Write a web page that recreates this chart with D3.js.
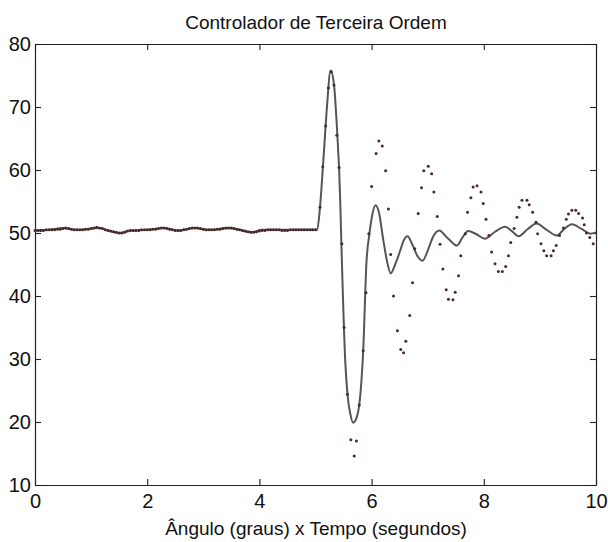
<!DOCTYPE html>
<html>
<head>
<meta charset="utf-8">
<script src="https://cdn.jsdelivr.net/npm/d3@7"></script>
<style>
  html, body { margin: 0; padding: 0; background: #fff; }
  svg { display: block; }
  text { font-family: "Liberation Sans", Arial, sans-serif; fill: #111; }
</style>
</head>
<body>
<svg id="chart" width="608" height="542"></svg>
<script>
// Continuous response (solid line): time [s] and angle [degrees]
const lineTime = [
  0.00, 0.25, 0.50, 0.75, 1.00, 1.15, 1.30, 1.50, 1.70, 2.00,
  2.30, 2.55, 2.85, 3.10, 3.45, 3.65, 3.85, 4.05, 4.50, 5.03,
  5.08, 5.14, 5.20, 5.27, 5.33, 5.41, 5.42, 5.44, 5.47, 5.53,
  5.57, 5.62, 5.67, 5.74, 5.78, 5.85, 5.91, 5.96, 6.01, 6.07,
  6.13, 6.21, 6.28, 6.34, 6.42, 6.51, 6.57, 6.64, 6.72, 6.82,
  6.91, 7.00, 7.10, 7.21, 7.32, 7.40, 7.52, 7.62, 7.72, 7.87,
  8.02, 8.20, 8.38, 8.50, 8.62, 8.78, 8.94, 9.12, 9.30, 9.43,
  9.57, 9.75, 9.90, 10.00
];
const lineValue = [
  50.4, 50.5, 50.8, 50.5, 50.7, 50.8, 50.4, 50.0, 50.4, 50.5,
  50.8, 50.4, 50.8, 50.5, 50.8, 50.5, 50.1, 50.5, 50.5, 50.5,
  54.1, 61.5, 69.5, 75.8, 73.5, 62.1, 60.4, 55.2, 45.6, 29.7,
  24.4, 21.3, 19.9, 20.9, 22.7, 31.3, 45.6, 49.8, 52.8, 54.4,
  53.3, 48.8, 45.3, 43.6, 45.0, 47.2, 48.8, 49.5, 48.3, 46.3,
  45.6, 47.2, 49.5, 50.4, 49.5, 48.8, 48.0, 49.3, 50.3, 49.8,
  49.1, 50.2, 51.0, 50.3, 49.5, 50.6, 51.5, 50.5, 49.6, 50.6,
  51.4, 50.6, 49.9, 50.1
];

// Sampled response (dots): time [s] and angle [degrees]
const dotTime = [
  0.00, 0.05, 0.10, 0.15, 0.20, 0.25, 0.30, 0.35, 0.40, 0.45,
  0.50, 0.55, 0.60, 0.65, 0.70, 0.75, 0.80, 0.85, 0.90, 0.95,
  1.00, 1.05, 1.10, 1.15, 1.20, 1.25, 1.30, 1.35, 1.40, 1.45,
  1.50, 1.55, 1.60, 1.65, 1.70, 1.75, 1.80, 1.85, 1.90, 1.95,
  2.00, 2.05, 2.10, 2.15, 2.20, 2.25, 2.30, 2.35, 2.40, 2.45,
  2.50, 2.55, 2.60, 2.65, 2.70, 2.75, 2.80, 2.85, 2.90, 2.95,
  3.00, 3.05, 3.10, 3.15, 3.20, 3.25, 3.30, 3.35, 3.40, 3.45,
  3.50, 3.55, 3.60, 3.65, 3.70, 3.75, 3.80, 3.85, 3.90, 3.95,
  4.00, 4.05, 4.10, 4.15, 4.20, 4.25, 4.30, 4.35, 4.40, 4.45,
  4.50, 4.55, 4.60, 4.65, 4.70, 4.75, 4.80, 4.85, 4.90, 4.95,
  5.00, 5.08, 5.13, 5.18, 5.23, 5.28, 5.33, 5.38, 5.42, 5.47,
  5.51, 5.57, 5.63, 5.69, 5.73, 5.78, 5.85, 5.90, 5.95, 6.00,
  6.08, 6.13, 6.19, 6.25, 6.30, 6.34, 6.39, 6.46, 6.52, 6.57,
  6.61, 6.68, 6.73, 6.77, 6.83, 6.89, 6.93, 7.01, 7.07, 7.11,
  7.17, 7.22, 7.27, 7.33, 7.37, 7.45, 7.49, 7.55, 7.59, 7.67,
  7.71, 7.77, 7.81, 7.88, 7.95, 7.99, 8.04, 8.09, 8.14, 8.20,
  8.26, 8.33, 8.39, 8.44, 8.48, 8.54, 8.59, 8.63, 8.68, 8.77,
  8.81, 8.87, 8.93, 8.96, 9.02, 9.07, 9.12, 9.20, 9.24, 9.29,
  9.35, 9.42, 9.47, 9.51, 9.57, 9.64, 9.69, 9.76, 9.79, 9.83,
  9.89, 9.95
];
const dotValue = [
  50.4, 50.4, 50.4, 50.4, 50.5, 50.5, 50.5, 50.5, 50.6, 50.6,
  50.7, 50.8, 50.7, 50.6, 50.5, 50.5, 50.5, 50.5, 50.6, 50.6,
  50.7, 50.8, 50.9, 50.8, 50.7, 50.5, 50.4, 50.3, 50.2, 50.1,
  50.0, 50.0, 50.1, 50.3, 50.4, 50.4, 50.4, 50.4, 50.5, 50.5,
  50.5, 50.5, 50.6, 50.6, 50.7, 50.8, 50.8, 50.7, 50.6, 50.5,
  50.4, 50.4, 50.4, 50.5, 50.6, 50.7, 50.8, 50.8, 50.8, 50.7,
  50.6, 50.5, 50.5, 50.5, 50.5, 50.6, 50.6, 50.7, 50.8, 50.8,
  50.8, 50.7, 50.6, 50.5, 50.4, 50.3, 50.2, 50.1, 50.1, 50.2,
  50.3, 50.4, 50.4, 50.5, 50.5, 50.5, 50.5, 50.5, 50.4, 50.4,
  50.4, 50.5, 50.5, 50.5, 50.5, 50.5, 50.5, 50.5, 50.5, 50.5,
  50.5, 54.1, 60.5, 67.0, 73.0, 75.6, 73.5, 65.5, 60.4, 48.3,
  35.0, 24.4, 17.2, 14.6, 17.0, 22.7, 31.3, 40.5, 49.9, 57.4,
  62.6, 64.6, 63.8, 59.9, 53.8, 46.6, 40.0, 34.5, 31.5, 31.0,
  32.8, 36.9, 42.1, 47.5, 53.1, 57.2, 59.9, 60.6, 59.4, 56.5,
  52.6, 48.2, 44.3, 41.0, 39.5, 39.4, 40.6, 43.2, 46.4, 49.9,
  53.3, 55.6, 57.3, 57.5, 56.5, 54.7, 52.2, 49.6, 47.0, 45.1,
  43.9, 43.9, 44.7, 46.4, 48.5, 50.7, 52.5, 54.1, 55.2, 55.2,
  54.5, 53.3, 51.7, 49.9, 48.3, 47.2, 46.4, 46.4, 47.2, 48.0,
  49.6, 50.8, 52.2, 53.0, 53.6, 53.6, 53.1, 52.4, 51.3, 50.0,
  49.3, 48.3
];

const xTicks = [0, 2, 4, 6, 8, 10];
const yTicks = [10, 20, 30, 40, 50, 60, 70, 80];

const titleText = "Controlador de Terceira Ordem";
const xLabelText = "Ângulo (graus) x Tempo (segundos)";

const svg = d3.select("#chart");
const plot = { left: 35, right: 596, top: 44, bottom: 485 };

const x = d3.scaleLinear().domain([0, 10]).range([plot.left, plot.right]);
const y = d3.scaleLinear().domain([10, 80]).range([plot.bottom, plot.top]);

const tickLen = 6;

// Frame and inward ticks on all four sides
const axisBottom = d3.axisBottom(x).tickValues(xTicks).tickSizeInner(-tickLen).tickSizeOuter(0).tickPadding(9);
const axisTop = d3.axisTop(x).tickValues(xTicks).tickSizeInner(-tickLen).tickSizeOuter(0).tickFormat("");
const axisLeft = d3.axisLeft(y).tickValues(yTicks).tickSizeInner(-tickLen).tickSizeOuter(0).tickPadding(4);
const axisRight = d3.axisRight(y).tickValues(yTicks).tickSizeInner(-tickLen).tickSizeOuter(0).tickFormat("");

function styleAxis(g) {
  g.selectAll("path.domain").attr("stroke", "#222").attr("stroke-width", 1.2);
  g.selectAll(".tick line").attr("stroke", "#222").attr("stroke-width", 1.1);
  g.selectAll(".tick text")
    .style("font-family", '"Liberation Sans", Arial, sans-serif')
    .style("font-size", "20px")
    .attr("fill", "#111");
}

svg.append("g").attr("transform", `translate(0,${plot.bottom})`).call(axisBottom).call(styleAxis);
svg.append("g").attr("transform", `translate(0,${plot.top})`).call(axisTop).call(styleAxis);
svg.append("g").attr("transform", `translate(${plot.left},0)`).call(axisLeft).call(styleAxis);
svg.append("g").attr("transform", `translate(${plot.right},0)`).call(axisRight).call(styleAxis);

// Solid response curve
const line = d3.line()
  .x((d, i) => x(lineTime[i]))
  .y((d, i) => y(lineValue[i]))
  .curve(d3.curveMonotoneX);

svg.append("path")
  .datum(lineValue)
  .attr("d", line)
  .attr("fill", "none")
  .attr("stroke", "#555")
  .attr("stroke-width", 2)
  .attr("stroke-linejoin", "round");

// Sampled points
svg.append("g")
  .selectAll("circle")
  .data(dotValue)
  .join("circle")
  .attr("cx", (d, i) => x(dotTime[i]))
  .attr("cy", d => y(d))
  .attr("r", 1.5)
  .attr("fill", "#4a2a28");

// Title and axis label
svg.append("text")
  .attr("x", 316)
  .attr("y", 29)
  .attr("text-anchor", "middle")
  .style("font-size", "19px")
  .text(titleText);

svg.append("text")
  .attr("x", 316)
  .attr("y", 535)
  .attr("text-anchor", "middle")
  .style("font-size", "19px")
  .text(xLabelText);
</script>
</body>
</html>
